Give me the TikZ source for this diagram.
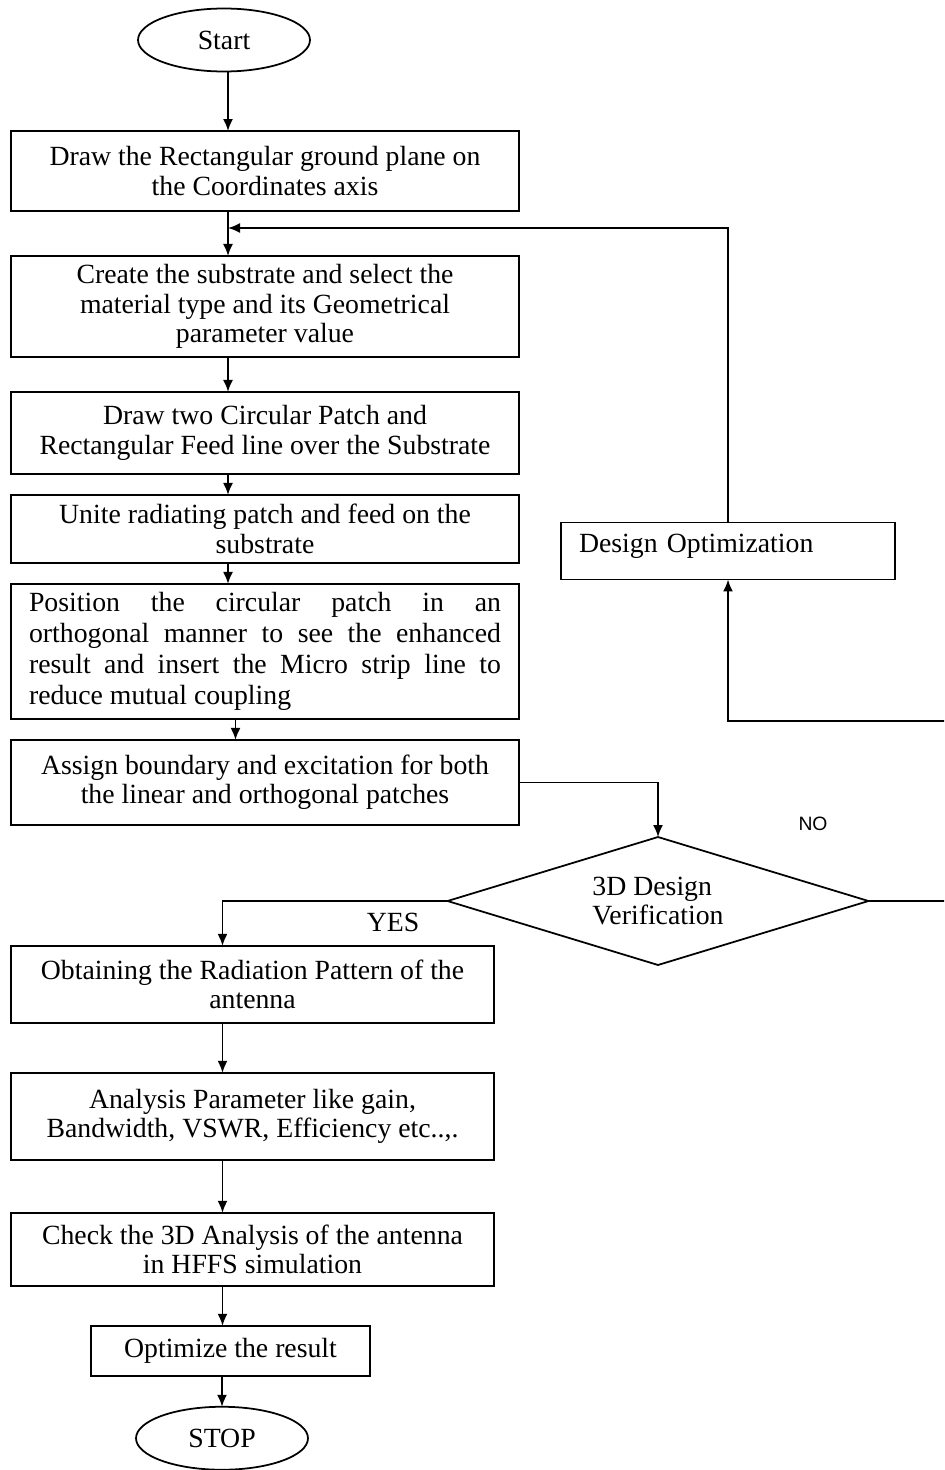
\documentclass[tikz,border=0pt]{standalone}
\usepackage{fontspec}
\setmainfont{Liberation Serif}
\newfontfamily\nofont{Liberation Sans}
\usetikzlibrary{positioning, arrows.meta, shapes.geometric}
\tikzset{
    topbox/.style={draw, minimum width=10.16cm, align=center, inner sep=0pt, outer sep=0pt},
    lowbox/.style={draw, minimum width=9.66cm, align=center, inner sep=0pt, outer sep=0pt},
    sidebox/.style={draw, minimum width=6.68cm, minimum height=1.14cm, text width=5.96cm, align=left,
        inner xsep=0.36cm, inner ysep=0pt, outer sep=0pt, text height=0.4cm, text depth=0.34cm},
    bigellipse/.style={draw, ellipse, minimum width=3.44cm, minimum height=1.26cm, outer sep=0pt},
    bigdiamond/.style={draw, diamond, aspect=3.3, minimum width=8.42cm, minimum height=2.56cm,
        inner sep=0pt, outer sep=0pt, align=left}
}

\begin{document}
\begin{tikzpicture}[x=0.02cm, y=-0.02cm, line width=1pt, >={Latex[length=2.4mm, width=2mm]},
    font=\fontsize{15.8pt}{16.8pt}\selectfont]
  \useasboundingbox (0,0) rectangle (944,1470);
  \clip (0,0) rectangle (944,1470);

  \node(S)[bigellipse] at (224,40){Start};
  \node(DG)[topbox, minimum height=1.6cm] at (265,171){Draw the Rectangular ground plane on\\the Coordinates axis};
  \node(CS)[topbox, minimum height=2.02cm, below=0.9cm of DG]{Create the substrate and select the\\material type and its Geometrical\\parameter value};
  \node(DP)[topbox, minimum height=1.64cm, below=0.7cm of CS]{Draw two Circular Patch and\\Rectangular Feed line over the Substrate};
  \node(U)[topbox, minimum height=1.36cm, below=0.42cm of DP]{Unite radiating patch and feed on the\\substrate};
  \node(P)[topbox, minimum height=2.7cm, below=0.42cm of U, align=left, font=\fontsize{15.8pt}{17.8pt}\selectfont]{%
    \makebox[9.44cm][s]{Position the circular patch in an}\\
    \makebox[9.44cm][s]{orthogonal manner to see the enhanced}\\
    \makebox[9.44cm][s]{result and insert the Micro strip line to}\\
    reduce mutual coupling};
  \node(A)[topbox, minimum height=1.7cm, below=0.42cm of P]{Assign boundary and excitation for both\\the linear and orthogonal patches};

  \node(V)[bigdiamond] at (658,901){3D Design\\Verification};
  \node(DO)[sidebox] at (728,551){Design Optimization};

  \node(RP)[lowbox, minimum height=1.54cm, below=2.42cm of A.south west, anchor=north west]{Obtaining the Radiation Pattern of the\\antenna};
  \node(AP)[lowbox, minimum height=1.74cm, below=1cm of RP]{Analysis Parameter like gain,\\Bandwidth, VSWR, Efficiency etc..,.};
  \node(C)[lowbox, minimum height=1.46cm, below=1.06cm of AP]{Check the 3D Analysis of the antenna\\in HFFS simulation};
  \node(O)[draw, outer sep=0pt, minimum width=5.58cm, minimum height=1cm, below=0.8cm of C, xshift=-0.44cm]{Optimize the result};
  \node(T)[bigellipse, below=0.62cm of O, xshift=-0.17cm]{STOP};

  \node(Y) at (393,922){YES};
  \node(N)[font=\nofont\fontsize{11pt}{12pt}\selectfont] at (813,824){NO};

  \coordinate(J) at (228,228);
  \coordinate(R) at (950,721);

  \draw[->]([xshift=-0.74cm]DG.north |- S.south)--([xshift=-0.74cm]DG.north);
  \draw[->]([xshift=-0.74cm]DG.south)--([xshift=-0.74cm]CS.north);
  \draw[->]([xshift=-0.74cm]CS.south)--([xshift=-0.74cm]DP.north);
  \draw[->]([xshift=-0.74cm]DP.south)--([xshift=-0.74cm]U.north);
  \draw[->]([xshift=-0.74cm]U.south)--([xshift=-0.74cm]P.north);
  \draw[->]([xshift=-0.59cm]P.south)--([xshift=-0.59cm]A.north);

  \draw[->](A.east)-|(V.north);
  \draw[->](V.west)-|([xshift=-0.6cm]RP.north);
  \draw[->](V.east)-|(R)-|(DO.south);
  \draw[->](DO.north)|-(J);

  \draw[->]([xshift=-0.6cm]RP.south)--([xshift=-0.6cm]AP.north);
  \draw[->]([xshift=-0.6cm]AP.south)--([xshift=-0.6cm]C.north);
  \draw[->]([xshift=-0.6cm]C.south)--([xshift=-0.6cm]C.south |- O.north);
  \draw[->](T.north |- O.south)--(T.north);

\end{tikzpicture}
\end{document}
